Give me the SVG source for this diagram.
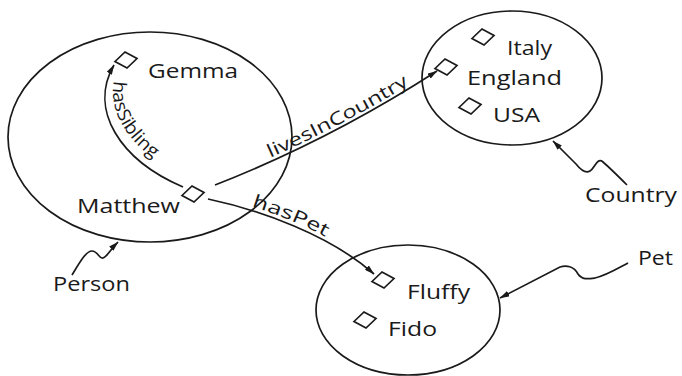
<svg xmlns="http://www.w3.org/2000/svg" xmlns:xlink="http://www.w3.org/1999/xlink" width="682" height="376" viewBox="0 0 682 376">
  <style>
    .set { fill: none; stroke: #1a1a1a; stroke-width: 1.7; }
    .ind { fill: #ffffff; stroke: #1a1a1a; stroke-width: 1.7; stroke-linejoin: miter; }
    .lbl { font-family: "Open Sans", "Noto Sans", "DejaVu Sans", sans-serif; font-size: 20px; fill: #1a1a1a; }
    .rel { font-family: "Open Sans", "Noto Sans", "DejaVu Sans", sans-serif; font-size: 18px; fill: #1a1a1a; }
    .edge { fill: none; stroke: #1a1a1a; stroke-width: 1.7; }
  </style>
  <defs>
    <marker id="arrow" viewBox="0 0 10 6" refX="9.5" refY="3" markerWidth="10" markerHeight="6" markerUnits="userSpaceOnUse" orient="auto">
      <path d="M0,0 L10,3 L0,6 z" fill="#1a1a1a"/>
    </marker>
    <polygon id="individual" class="ind" points="-11,1.5 -1,-8 11,-1.5 1,8"/>
    <!-- baselines for the relation labels -->
    <path id="sibPath" d="M 121,62 C 97,106 129,153 190,179"/>
    <path id="livesPath" d="M 215,181 Q 330,136 436,68"/>
    <path id="petPath" d="M 208,195 C 260,206 330,231 373,269"/>
  </defs>

  <!-- class extents -->
  <g id="person-set">
    <ellipse class="set" cx="150" cy="137" rx="142" ry="105"/>
  </g>
  <g id="country-set">
    <ellipse class="set" cx="512" cy="78" rx="90" ry="67"/>
  </g>
  <g id="pet-set">
    <ellipse class="set" cx="408" cy="310" rx="92" ry="65"/>
  </g>

  <!-- relations and class pointers -->
  <g id="connectors">
    <path class="edge" d="M 183,187 C 120,160 88,110 114,65" marker-end="url(#arrow)"/>
    <path class="edge" d="M 215,185 Q 330,140 437,71" marker-end="url(#arrow)"/>
    <path class="edge" d="M 208,199 C 260,210 330,235 374,274" marker-end="url(#arrow)"/>
    <path class="edge" d="M 72,275 C 80,262 86,251 92,251 C 98,251 99,259 103,258 C 107,257 110,250 118,242" marker-end="url(#arrow)"/>
    <path class="edge" d="M 627,185 C 618,176 610,168 603,162 C 597,157 595,168 590,171 C 585,174 580,169 576,164 L 553,141" marker-end="url(#arrow)"/>
    <path class="edge" d="M 628,263 C 615,270 605,276 595,278 C 588,279 582,280 578,274 C 574,266 566,265 560,267 L 500,298" marker-end="url(#arrow)"/>
    <text class="rel"><textPath xlink:href="#sibPath" startOffset="20" textLength="92" lengthAdjust="spacingAndGlyphs">hasSibling</textPath></text>
    <text class="rel"><textPath xlink:href="#livesPath" startOffset="60" textLength="157" lengthAdjust="spacingAndGlyphs">livesInCountry</textPath></text>
    <text class="rel"><textPath xlink:href="#petPath" startOffset="45" textLength="80" lengthAdjust="spacingAndGlyphs">hasPet</textPath></text>
  </g>

  <!-- individuals -->
  <g id="gemma">
    <use xlink:href="#individual" x="126" y="60"/>
    <text class="lbl" x="148" y="78" textLength="90" lengthAdjust="spacingAndGlyphs">Gemma</text>
  </g>
  <g id="matthew">
    <use xlink:href="#individual" x="193" y="194"/>
    <text class="lbl" x="77" y="213" textLength="103" lengthAdjust="spacingAndGlyphs">Matthew</text>
  </g>
  <g id="italy">
    <use xlink:href="#individual" x="483" y="37"/>
    <text class="lbl" x="507" y="55" textLength="45" lengthAdjust="spacingAndGlyphs">Italy</text>
  </g>
  <g id="england">
    <use xlink:href="#individual" x="446" y="67"/>
    <text class="lbl" x="467" y="85" textLength="95" lengthAdjust="spacingAndGlyphs">England</text>
  </g>
  <g id="usa">
    <use xlink:href="#individual" x="470" y="106"/>
    <text class="lbl" x="493" y="122" textLength="47" lengthAdjust="spacingAndGlyphs">USA</text>
  </g>
  <g id="fluffy">
    <use xlink:href="#individual" x="383" y="280"/>
    <text class="lbl" x="407" y="299" textLength="63" lengthAdjust="spacingAndGlyphs">Fluffy</text>
  </g>
  <g id="fido">
    <use xlink:href="#individual" x="365" y="320"/>
    <text class="lbl" x="388" y="336" textLength="49" lengthAdjust="spacingAndGlyphs">Fido</text>
  </g>

  <!-- class names -->
  <g id="person-label">
    <text class="lbl" x="53" y="291" textLength="77" lengthAdjust="spacingAndGlyphs">Person</text>
  </g>
  <g id="country-label">
    <text class="lbl" x="585" y="202" textLength="92" lengthAdjust="spacingAndGlyphs">Country</text>
  </g>
  <g id="pet-label">
    <text class="lbl" x="638" y="265" textLength="35" lengthAdjust="spacingAndGlyphs">Pet</text>
  </g>
</svg>
